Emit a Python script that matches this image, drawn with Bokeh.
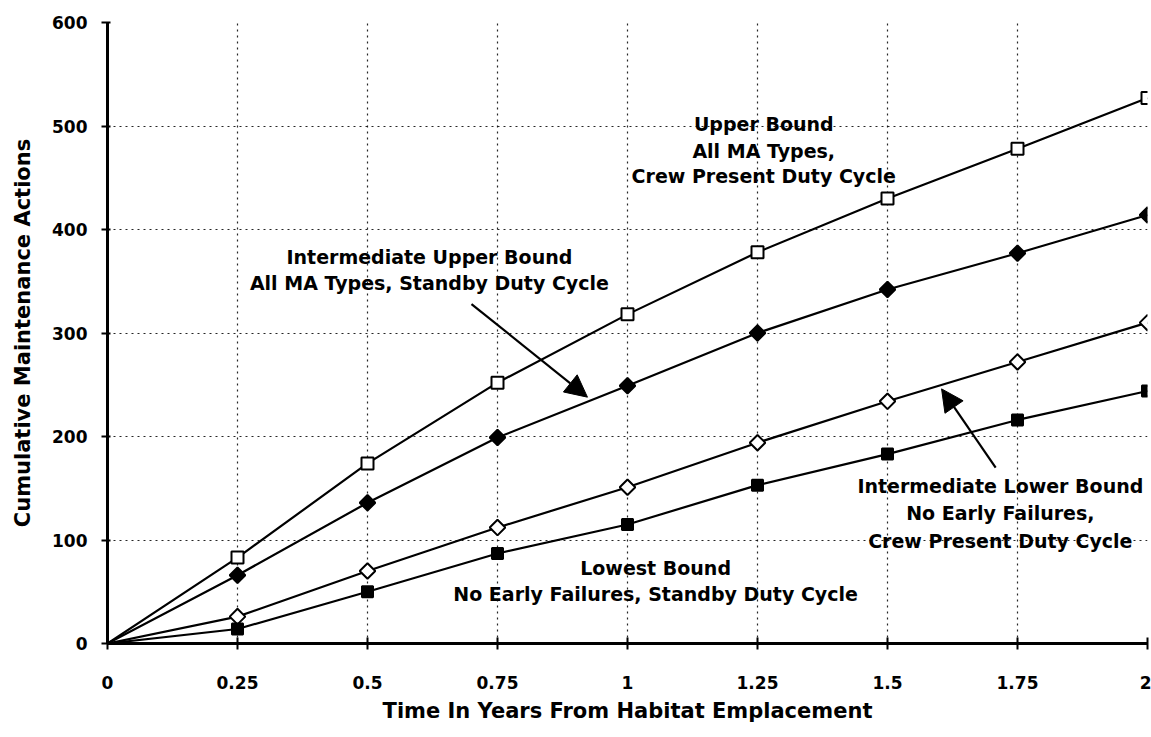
from bokeh.plotting import figure
from bokeh.models import Range1d, FixedTicker, Arrow, NormalHead, Label
from bokeh.embed import file_html
from bokeh.resources import INLINE
import math

years = [0, 0.25, 0.5, 0.75, 1.0, 1.25, 1.5, 1.75, 2.0]
upper_bound = [0, 83, 174, 252, 318, 378, 430, 478, 527]
intermediate_upper = [0, 66, 136, 199, 249, 300, 342, 377, 414]
intermediate_lower = [0, 26, 70, 112, 151, 194, 234, 272, 310]
lowest_bound = [0, 14, 50, 87, 115, 153, 183, 216, 244]

x_ticks = [0, 0.25, 0.5, 0.75, 1, 1.25, 1.5, 1.75, 2]
x_tick_labels = ["0", "0.25", "0.5", "0.75", "1", "1.25", "1.5", "1.75", "2"]
y_ticks = [0, 100, 200, 300, 400, 500, 600]

FONT = "DejaVu Sans"

p = figure(width=1151, height=737, output_backend="svg", toolbar_location=None,
           x_range=Range1d(0, 2), y_range=Range1d(0, 600),
           min_border_left=107, min_border_right=4, min_border_top=22, min_border_bottom=94)
p.outline_line_color = None
p.background_fill_color = "white"
p.border_fill_color = "white"

# axes
p.xaxis.ticker = FixedTicker(ticks=x_ticks)
p.xaxis.major_label_overrides = {t: l for t, l in zip(x_ticks, x_tick_labels)}
p.yaxis.ticker = FixedTicker(ticks=y_ticks)
for ax in (p.xaxis[0], p.yaxis[0]):
    ax.axis_line_width = 3
    ax.axis_line_color = "black"
    ax.major_tick_line_width = 2
    ax.major_tick_line_color = "black"
    ax.minor_tick_line_color = None
    ax.major_label_text_font = FONT
    ax.major_label_text_font_style = "bold"
    ax.major_label_text_font_size = "17px"
    ax.major_label_text_color = "black"
    ax.axis_label_text_font = FONT
    ax.axis_label_text_font_style = "bold"
    ax.axis_label_text_font_size = "21px"
    ax.axis_label_text_color = "black"

p.xaxis.major_tick_in = 6
p.xaxis.major_tick_out = 6
p.xaxis.major_label_standoff = 26
p.xaxis.axis_label = "Time In Years From Habitat Emplacement"
p.xaxis.axis_label_standoff = 7

p.yaxis.major_tick_in = 3
p.yaxis.major_tick_out = 6
p.yaxis.major_label_standoff = 14
p.yaxis.axis_label = "Cumulative Maintenance Actions"
p.yaxis.axis_label_standoff = 14

# grid
p.xgrid.ticker = FixedTicker(ticks=x_ticks)
p.ygrid.ticker = FixedTicker(ticks=y_ticks)
for g in (p.xgrid[0], p.ygrid[0]):
    g.grid_line_color = "black"
    g.grid_line_width = 1.2
    g.grid_line_dash = "2 4"
    g.grid_line_alpha = 0.85

# series: (values, marker, fill, size, angle)
series = [
    (upper_bound, "square", "white", 12, 0.0),
    (intermediate_upper, "square", "black", 11, math.pi / 4),
    (intermediate_lower, "square", "white", 11, math.pi / 4),
    (lowest_bound, "square", "black", 11, 0.0),
]
for ys, marker, fill, size, ang in series:
    p.line(years, ys, line_color="black", line_width=2.2)
    p.scatter(years[1:], ys[1:], marker=marker, size=size, angle=ang, fill_color=fill,
              line_color="black", line_width=2)

def add_text(x, ys, lines):
    for yv, t in zip(ys, lines):
        p.add_layout(Label(x=x, y=yv, text=t, text_align="center", text_baseline="middle",
                           text_font=FONT, text_font_style="bold", text_font_size="19px",
                           text_color="black"))

add_text(1.262, [502, 476, 452], ["Upper Bound", "All MA Types,", "Crew Present Duty Cycle"])
add_text(0.619, [373, 348], ["Intermediate Upper Bound", "All MA Types, Standby Duty Cycle"])
add_text(1.717, [152, 126, 99.5], ["Intermediate Lower Bound", "No Early Failures,", "Crew Present Duty Cycle"])
add_text(1.054, [72.5, 48], ["Lowest Bound", "No Early Failures, Standby Duty Cycle"])

p.add_layout(Arrow(x_start=0.70, y_start=328, x_end=0.923, y_end=238, line_width=2.2,
                   line_color="black",
                   end=NormalHead(size=22, fill_color="black", line_color="black")))
p.add_layout(Arrow(x_start=1.708, y_start=170, x_end=1.604, y_end=246, line_width=2.2,
                   line_color="black",
                   end=NormalHead(size=22, fill_color="black", line_color="black")))

open("out.html", "w").write(file_html(p, INLINE))
